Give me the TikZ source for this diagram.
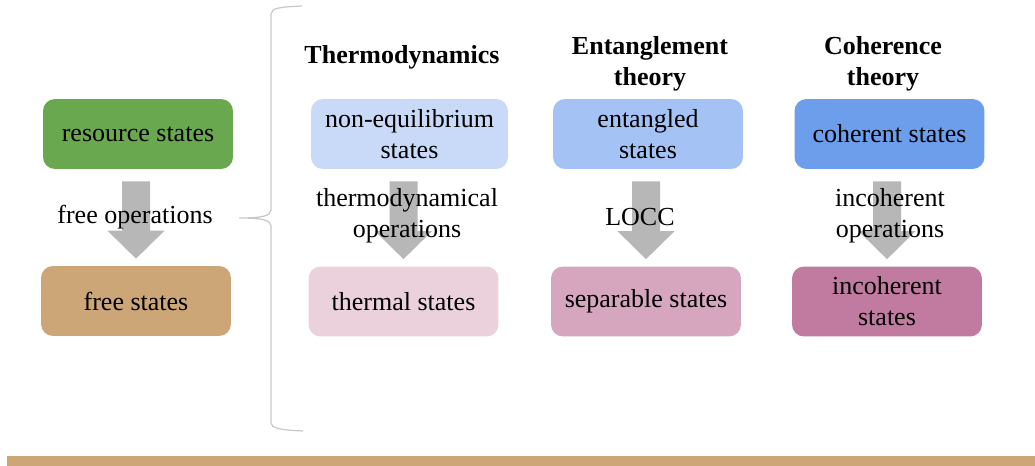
\documentclass[tikz,border=0pt]{standalone}
\usepackage{fontspec}
\setmainfont{Liberation Serif}
\usetikzlibrary{calc}

\definecolor{resgreen}{HTML}{6AA84F}
\definecolor{freetan}{HTML}{CCA677}
\definecolor{neqblue}{HTML}{C9DAF8}
\definecolor{thmpink}{HTML}{EAD1DC}
\definecolor{entblue}{HTML}{A4C2F4}
\definecolor{seppink}{HTML}{D5A6BD}
\definecolor{cohblue}{HTML}{6D9EEB}
\definecolor{incpink}{HTML}{C27BA0}
\definecolor{arrowgray}{HTML}{B7B7B7}
\definecolor{bracegray}{HTML}{C8C8C8}

\newcommand{\diagfont}{\fontsize{14.8}{17.6}\selectfont}

\tikzset{
  statebox/.style={rounded corners=6.8pt, minimum width=3.8cm, minimum height=1.4cm, align=center, inner sep=2pt},
  oplabel/.style={align=center, inner sep=0pt},
  theory/.style={align=center, inner sep=0pt, font=\diagfont\bfseries},
}

% block arrow from the box #1 down to the box #2
\newcommand{\bigarrow}[2]{%
  \coordinate (s) at ($(#1.south -| #2.north)+(0,12)$);
  \coordinate (t) at ($(#2.north)+(0,-7)$);
  \fill[arrowgray] ($(s)+(-14,0)$) -- ($(s)+(14,0)$) -- ($(t)+(14,-28)$) -- ($(t)+(28.5,-28)$)
    -- (t) -- ($(t)+(-28.5,-28)$) -- ($(t)+(-14,-28)$) -- cycle;}

\begin{document}
\begin{tikzpicture}[x=0.02cm, y=-0.02cm, font=\diagfont]
    \useasboundingbox (0,0) rectangle (1035,466);
    \fill[freetan] (7,456) rectangle (1035,466);

    % general scheme
    \node[statebox, fill=resgreen] (rs) at (138,134) {resource states};
    \node[statebox, fill=freetan] (fs) at (136,301) {free states};
    \bigarrow{rs}{fs}
    \node[oplabel] (fop) at (135,217) {free operations};

    \draw[bracegray, line width=0.7pt] (302,6) .. controls (280,7) and (271,8) .. (271,14)
      -- (271,210) .. controls (271,216) and (262,218) .. (239,218)
      .. controls (262,218) and (271,220) .. (271,226)
      -- (271,423) .. controls (271,428) and (280,430) .. (303,431);

    % thermodynamics
    \node[theory] (thd) at (402,57) {Thermodynamics};
    \node[statebox, fill=neqblue, minimum width=3.94cm] (neq) at (409.5,134) {non-equilibrium\\states};
    \node[statebox, fill=thmpink] (thm) at (403.5,301.5) {thermal states};
    \bigarrow{neq}{thm}
    \node[oplabel] (top) at (407,216) {thermodynamical\\operations};

    % entanglement
    \node[theory] (entt) at (650,63.5) {Entanglement\\theory};
    \node[statebox, fill=entblue] (ent) at (648,134) {entangled\\states};
    \node[statebox, fill=seppink] (sep) at (646,301.5) {separable states};
    \bigarrow{ent}{sep}
    \node[oplabel] (locc) at (640,217) {LOCC};

    % coherence
    \node[theory] (coht) at (883,63.5) {Coherence\\theory};
    \node[statebox, fill=cohblue] (coh) at (889.5,134) {coherent states};
    \node[statebox, fill=incpink] (inc) at (887,301.5) {incoherent\\states};
    \bigarrow{coh}{inc}
    \node[oplabel] (iop) at (890,216) {incoherent\\operations};
\end{tikzpicture}
\end{document}
